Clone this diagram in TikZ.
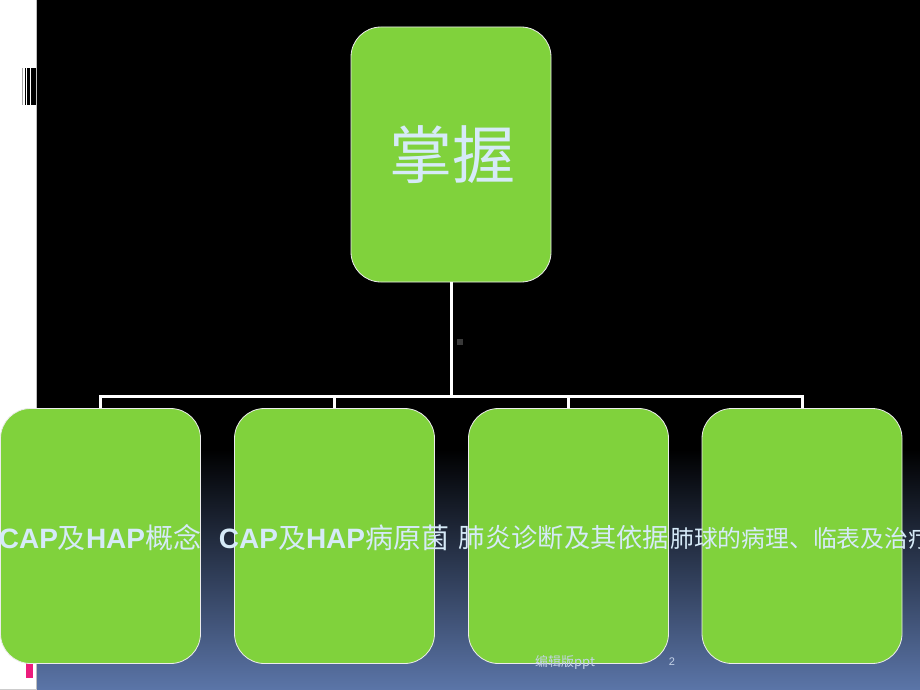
\documentclass[tikz,border=0pt]{standalone}
\usepackage{fontspec}
\setmainfont{Liberation Sans}
\newfontfamily\cjk{Noto Sans CJK SC}
\newfontfamily\lat{Liberation Sans}
\usetikzlibrary{shadings}
\definecolor{boxgreen}{HTML}{80D23C}
\definecolor{txtblue}{HTML}{D6EAF8}
\definecolor{bottomblue}{HTML}{5B75A8}
\definecolor{pinkmark}{HTML}{EC1C7C}
\definecolor{foot}{HTML}{C4D2E8}
\tikzset{
  gbox/.style={draw=white!85!gray, line width=0.8pt, fill=boxgreen, rounded corners=30pt,
    minimum width=200pt, minimum height=255pt, inner sep=0pt},
  conn/.style={draw=white, line width=3pt},
  lbl/.style={text=txtblue, font=\fontsize{28}{30}\selectfont, inner sep=0pt}
}
\newcommand{\B}[1]{{\lat\bfseries #1}}
\begin{document}
\begin{tikzpicture}[x=1pt,y=-1pt]
\useasboundingbox (0,0) rectangle (920,690);
\clip (0,0) rectangle (920,690);
% background
\fill[black] (37,0) rectangle (920,450);
\shade[top color=black, bottom color=bottomblue] (37,449.5) rectangle (920,690);
\fill[white] (0,0) rectangle (36.5,690);
\draw[gray!50, line width=0.8pt] (36.6,0) -- (36.6,690);
\draw[gray!40, line width=0.8pt] (0,689.5) -- (36.6,689.5);
% left decoration
\fill[gray!70] (22,68.3) rectangle (22.8,105);
\fill[black] (24.7,68.3) rectangle (25.7,105);
\fill[black] (26.7,68.3) rectangle (30,105);
\fill[black] (31,68.3) rectangle (35.6,105);
\fill[pinkmark] (25.8,663) rectangle (33,677.5);
% small mark
\fill[gray!45!black] (457,338.5) rectangle (463,344.5);
% nodes
\node[gbox] (top) at (451,154.5) {};
\node[gbox] (b1) at (100.5,536) {};
\node[gbox] (b2) at (334.5,536) {};
\node[gbox] (b3) at (568.5,536) {};
\node[gbox] (b4) at (802,536) {};
% connectors
\coordinate (hub) at (451,396.5);
\draw[conn] (top.south) -- (hub);
\draw[conn] (b1.north) -- (b1.north |- hub) -- (b4.north |- hub) -- (b4.north);
\draw[conn] (b2.north) -- (b2.north |- hub);
\draw[conn] (b3.north) -- (b3.north |- hub);
% labels
\node[text=txtblue, font=\cjk\fontsize{63}{65}\selectfont, inner sep=0pt] (tt) at (452,155) {掌握};
\node[lbl] (t1) at (100,538) {\B{CAP}\cjk 及\B{HAP}\cjk 概念};
\node[lbl] (t2) at (334,538) {\B{CAP}\cjk 及\B{HAP}\cjk 病原菌};
\node[lbl, font=\fontsize{26.3}{29}\selectfont] (t3) at (564,538) {\cjk 肺炎诊断及其依据};
\node[lbl, anchor=west, font=\fontsize{23.8}{26}\selectfont] (t4) at (670,538) {\cjk 肺球的病理、临表及治疗};
% footer
\node[text=foot, font=\cjk\fontsize{13}{14}\selectfont, inner sep=0pt] (f1) at (565,662) {编辑版ppt};
\node[text=foot, font=\fontsize{11}{12}\selectfont, inner sep=0pt] (f2) at (672,662) {2};
\end{tikzpicture}
\end{document}
